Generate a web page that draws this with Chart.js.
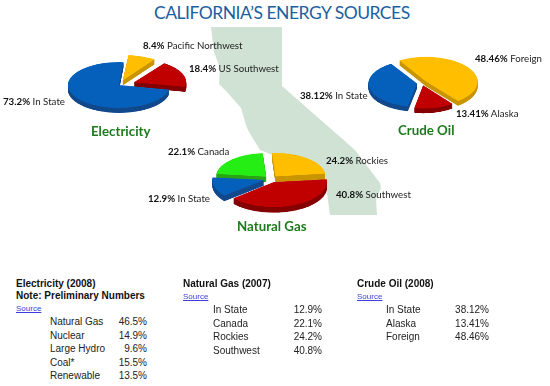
<!DOCTYPE html>
<html lang="en">
<head>
    <meta charset="UTF-8">
    <title>California's Energy Sources</title>
    <script src="https://cdn.jsdelivr.net/npm/chart.js"></script>
    <style>
        html, body {
            margin: 0;
            padding: 0;
            background: #fff;
        }

        #page {
            position: relative;
            width: 550px;
            height: 386px;
            overflow: hidden;
        }

        #map {
            position: absolute;
            left: 0;
            top: 0;
        }

        h1 {
            position: absolute;
            left: 154px;
            top: 0;
            margin: 0;
            font: 400 17.5px/25px Lato, sans-serif;
            letter-spacing: -0.5px;
            color: #1c5fa0;
            white-space: nowrap;
        }

        canvas {
            position: absolute;
        }

        /* Pie labels */
        .label {
            position: absolute;
            font: 400 9.7px/14px Lato, sans-serif;
            color: #222;
            white-space: nowrap;
        }

        .label b {
            color: #111;
        }

        .pie-title {
            position: absolute;
            font: 700 13.3px/20px Lato, sans-serif;
            color: #1f7a1f;
            white-space: nowrap;
        }

        /* Tables under the pies */
        .txt {
            position: absolute;
            font: 10px/13px "Liberation Sans", Arial, sans-serif;
            color: #222;
            white-space: nowrap;
        }

        .head {
            font-weight: bold;
            color: #111;
        }

        .src {
            font-size: 8px;
            color: #3c3ce0;
            text-decoration: underline;
        }
    </style>
</head>
<body>
<div id="page">
    <svg id="map" width="550" height="386">
        <path fill="#cfe2d4" d="M211 27 L282 27 L282 86 L355 150 L380 183 L381 188 L376 198 L377 215 L330 215 L327 193 L312 172 L285 160 L260 150 L252 137 L247 128 L241 108 L227 92 L219 84 L220 68 L214 52 Z"/>
    </svg>
    <h1>CALIFORNIA’S ENERGY SOURCES</h1>
    <canvas id="electricityPie" width="190" height="190"></canvas>
    <canvas id="crudePie" width="190" height="190"></canvas>
    <canvas id="gasPie" width="190" height="190"></canvas>
</div>

<script>
    // values
    const elecNames = ["Pacific Northwest", "US Southwest", "In State"];
    const elecValues = [8.4, 18.4, 73.2];

    const crudeNames = ["Foreign", "Alaska", "In State"];
    const crudeValues = [48.46, 13.41, 38.12];

    const gasNames = ["Rockies", "Southwest", "In State", "Canada"];
    const gasValues = [24.2, 40.8, 12.9, 22.1];

    const elecTableNames = ["Natural Gas", "Nuclear", "Large Hydro", "Coal*", "Renewable"];
    const elecTableValues = ["46.5%", "14.9%", "9.6%", "15.5%", "13.5%"];

    const gasTableNames = ["In State", "Canada", "Rockies", "Southwest"];
    const gasTableValues = ["12.9%", "22.1%", "24.2%", "40.8%"];

    const crudeTableNames = ["In State", "Alaska", "Foreign"];
    const crudeTableValues = ["38.12%", "13.41%", "48.46%"];

    const BLUE = "#0560bb", YELLOW = "#ffbf00", RED = "#c00000", GREEN = "#25ee14";
    const darker = { [BLUE]: "#12498c", [YELLOW]: "#c99500", [RED]: "#850000", [GREEN]: "#2ca414" };

    const page = document.getElementById("page");

    // stack darker copies of the slices under the real ones for the 3D edge
    const depthPlugin = {
        id: "depth",
        beforeDatasetsDraw(chart, args, opts) {
            const ctx = chart.ctx;
            const arcs = chart.getDatasetMeta(0).data;
            for (let d = opts.size; d >= 1; d--) {
                ctx.save();
                ctx.translate(0, d);
                arcs.forEach((arc) => {
                    const saved = arc.options;
                    arc.options = Object.assign({}, saved, { backgroundColor: darker[saved.backgroundColor] });
                    arc.draw(ctx);
                    arc.options = saved;
                });
                ctx.restore();
            }
        }
    };

    // chart.js moves a slice by offset/4 and shrinks the radius by offset/2
    function makePie(id, cx, cy, squash, radius, names, values, colors, offsets, rotation, depth) {
        const canvas = document.getElementById(id);
        canvas.style.left = (cx - 95) + "px";
        canvas.style.top = (cy - 95) + "px";
        canvas.style.transform = "scaleY(" + squash + ")";
        const maxOffset = Math.max(...offsets);
        return new Chart(canvas, {
            type: "pie",
            plugins: [depthPlugin],
            data: {
                labels: names,
                datasets: [{ data: values, backgroundColor: colors, offset: offsets, borderWidth: 0, hoverOffset: 0 }]
            },
            options: {
                responsive: false,
                animation: false,
                rotation: rotation,
                layout: { padding: 95 - radius - maxOffset / 2 },
                events: [],
                plugins: {
                    legend: { display: false },
                    tooltip: { enabled: false },
                    depth: { size: depth }
                }
            }
        });
    }

    makePie("electricityPie", 119, 85, 0.45, 51, elecNames, elecValues, [YELLOW, RED, BLUE], [44, 64, 0], 5, 11);
    makePie("crudePie", 422, 83, 0.48, 47, crudeNames, crudeValues, [YELLOW, RED, BLUE], [20, 20, 20], -32, 10);
    makePie("gasPie", 271, 178.5, 0.47, 50, gasNames, gasValues, [YELLOW, RED, BLUE, GREEN], [28, 28, 28, 28], -4, 12);

    function addText(cls, x, y, html, rightAlign) {
        const el = document.createElement("div");
        el.className = cls;
        el.style.top = y + "px";
        if (rightAlign) el.style.right = (550 - x) + "px";
        else el.style.left = x + "px";
        el.innerHTML = html;
        page.appendChild(el);
    }

    function pieLabel(x, y, value, name) {
        addText("label", x, y, "<b>" + value + "%</b> " + name);
    }

    pieLabel(143, 38, elecValues[0], elecNames[0]);
    pieLabel(189, 61, elecValues[1], elecNames[1]);
    pieLabel(3, 94, elecValues[2], elecNames[2]);
    pieLabel(475, 51, crudeValues[0], crudeNames[0]);
    pieLabel(456, 106, crudeValues[1], crudeNames[1]);
    pieLabel(300, 88, crudeValues[2], crudeNames[2]);
    pieLabel(326, 153, gasValues[0], gasNames[0]);
    pieLabel(336, 187, gasValues[1], gasNames[1]);
    pieLabel(148, 191, gasValues[2], gasNames[2]);
    pieLabel(168, 144, gasValues[3], gasNames[3]);

    addText("pie-title", 91, 121, "Electricity");
    addText("pie-title", 398, 120, "Crude Oil");
    addText("pie-title", 237, 216, "Natural Gas");

    function table(nameX, valueX, startY, names, values) {
        const rowStep = 13.6;
        names.forEach((name, i) => {
            addText("txt", nameX, startY + i * rowStep, name);
            addText("txt", valueX, startY + i * rowStep, values[i], true);
        });
    }

    addText("txt head", 16, 277, "Electricity (2008)");
    addText("txt head", 16, 289, "Note: Preliminary Numbers");
    addText("txt src", 16, 302, "Source");
    table(50, 147, 315, elecTableNames, elecTableValues);

    addText("txt head", 183, 277, "Natural Gas (2007)");
    addText("txt src", 183, 290, "Source");
    table(213, 322, 303, gasTableNames, gasTableValues);

    addText("txt head", 357, 277, "Crude Oil (2008)");
    addText("txt src", 357, 290, "Source");
    table(386, 489, 303, crudeTableNames, crudeTableValues);
</script>
</body>
</html>
